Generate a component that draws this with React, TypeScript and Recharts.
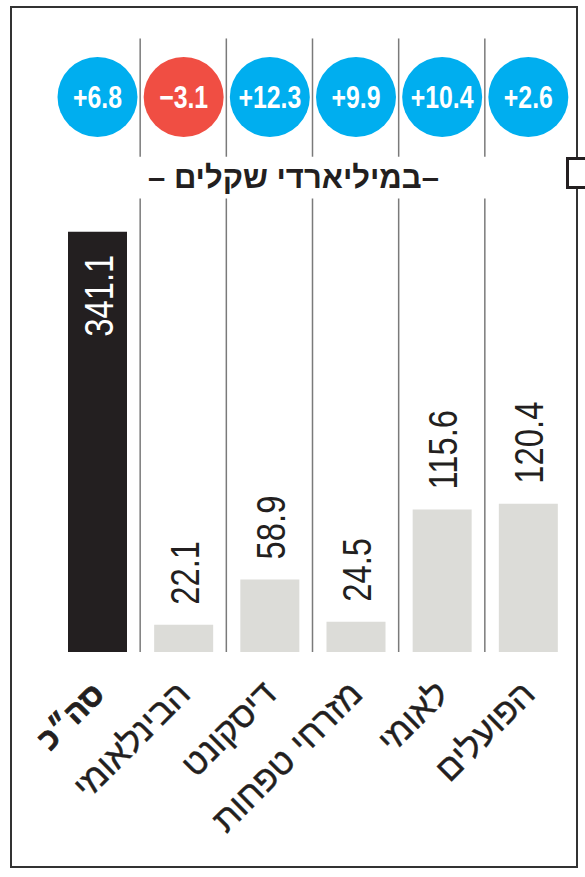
import React from 'react';
import { BarChart, Bar, XAxis, YAxis, LabelList, ReferenceLine, Cell } from 'recharts';

// Bank net profit, billions of shekels, and yearly change
const banks = ['סה״כ', 'הבינלאומי', 'דיסקונט', 'מזרחי טפחות', 'לאומי', 'הפועלים'];
const profit = [341.1, 22.1, 58.9, 24.5, 115.6, 120.4];
const change = [6.8, -3.1, 12.3, 9.9, 10.4, 2.6];

const data = banks.map((name, i) => ({ name, profit: profit[i], change: change[i] }));

const INK = '#231F20';
const BAR_GREY = '#DCDCD8';
const BLUE = '#00AEEF';
const RED = '#F04E43';
const FONT = '"Liberation Sans", Arial, "DejaVu Sans", sans-serif';

// divider segments (value units), broken where the subtitle sits
const DIV_TOP = 498;
const GAP_TOP = 402;
const GAP_BOTTOM = 368;
const CIRCLE_Y = 97;

const ValueLabel = (props: any) => {
  const { x, y, width, value, index } = props;
  const cx = x + width / 2 + 15;
  const total = index === 0;
  return (
    <text
      transform={`translate(${cx}, ${total ? y + 23 : y - 20}) rotate(-90) scale(0.82, 1)`}
      textAnchor={total ? 'end' : 'start'}
      fontSize={40}
      fontFamily={FONT}
      fill={total ? '#fff' : INK}
    >
      {value.toFixed(1)}
    </text>
  );
};

const ChangeBubble = (props: any) => {
  const { x, width, value } = props;
  const cx = x + width / 2;
  const txt = (value > 0 ? '+' : '\u2212') + Math.abs(value).toFixed(1);
  return (
    <g>
      <circle cx={cx} cy={CIRCLE_Y} r={40} fill={value < 0 ? RED : BLUE} />
      <text
        transform={`translate(${cx}, ${CIRCLE_Y + 11}) scale(0.8, 1)`}
        textAnchor="middle"
        fontSize={31}
        fontWeight={700}
        fontFamily={FONT}
        fill="#fff"
      >
        {txt}
      </text>
    </g>
  );
};

const BankTick = (props: any) => {
  const { x, y, payload } = props;
  const bold = payload.value === banks[0];
  return (
    <text
      transform={`translate(${x + 9}, ${y + 44}) rotate(-45)`}
      textAnchor="end"
      fontSize={bold ? 31 : 35}
      fontWeight={bold ? 700 : 400}
      fontFamily={FONT}
      fill={INK}
      stroke={INK}
      strokeWidth={bold ? 0.8 : 0.4}
    >
      {payload.value}
    </text>
  );
};

export default function App() {
  return (
    <div style={{ position: 'relative', width: 585, height: 877, overflow: 'hidden', background: '#fff' }}>
      <style>{'body{margin:0}'}</style>

      {/* frame */}
      <div style={{ position: 'absolute', left: 10, top: 6, width: 568, height: 862, border: '2px solid #333', boxSizing: 'border-box' }} />

      <BarChart
        width={585}
        height={877}
        data={data}
        margin={{ top: 36, right: 14, left: 54, bottom: 195 }}
        barSize={59}
        style={{ position: 'absolute', left: 0, top: 0 }}
      >
        <YAxis hide domain={[0, 500]} />
        <XAxis
          dataKey="name"
          height={30}
          axisLine={false}
          tickLine={false}
          tickSize={0}
          tickMargin={0}
          interval={0}
          tick={<BankTick />}
        />
        {banks.slice(1).map(b => (
          <ReferenceLine
            key={'a' + b}
            position="start"
            segment={[{ x: b, y: DIV_TOP }, { x: b, y: GAP_TOP }]}
            stroke="#7a7a7a"
            strokeWidth={1.5}
          />
        ))}
        {banks.slice(1).map(b => (
          <ReferenceLine
            key={'b' + b}
            position="start"
            segment={[{ x: b, y: GAP_BOTTOM }, { x: b, y: 0 }]}
            stroke="#7a7a7a"
            strokeWidth={1.5}
          />
        ))}
        <Bar dataKey="profit" isAnimationActive={false}>
          {data.map((d, i) => (
            <Cell key={i} fill={i === 0 ? INK : BAR_GREY} />
          ))}
          <LabelList dataKey="profit" content={<ValueLabel />} />
          <LabelList dataKey="change" content={<ChangeBubble />} />
        </Bar>
      </BarChart>

      {/* subtitle */}
      <div
        style={{
          position: 'absolute', left: 0, width: 587, top: 162, textAlign: 'center',
          fontFamily: FONT, fontWeight: 700, fontSize: 31, color: INK, lineHeight: '32px', direction: 'ltr',
        }}
      >
        <span>– </span><span dir="rtl">במיליארדי שקלים</span><span>–</span>
      </div>

      {/* tab on the right edge */}
      <div style={{ position: 'absolute', left: 566, top: 157, width: 30, height: 32, border: `3px solid ${INK}`, background: '#fff', boxSizing: 'border-box' }} />
    </div>
  );
}
